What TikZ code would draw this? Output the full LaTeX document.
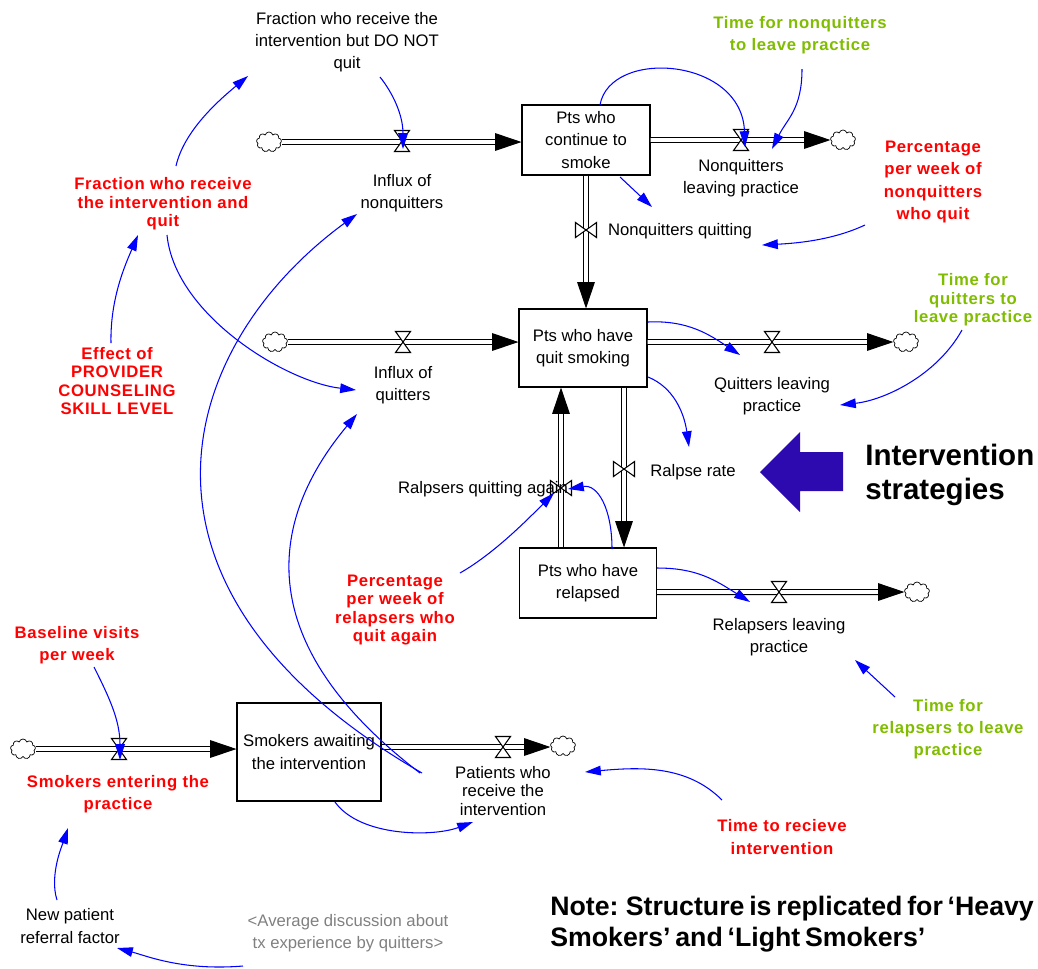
\documentclass[tikz,border=0pt]{standalone}
\usepackage{fontspec}
\setmainfont{Liberation Sans}
\newfontfamily\spfont[LetterSpace=4]{Liberation Sans}
\usetikzlibrary{arrows.meta,shapes.symbols,calc}

\definecolor{linkblue}{RGB}{0,0,255}
\definecolor{parred}{RGB}{255,0,0}
\definecolor{pargreen}{RGB}{128,188,0}
\definecolor{shadowgray}{RGB}{128,128,128}
\definecolor{bigblue}{RGB}{44,10,176}

\tikzstyle{stock}     = [draw, fill=white, line width=0.6pt, align=center, inner sep=0pt, font=\fontsize{9.5}{12.7}\selectfont]
\tikzstyle{lbl}       = [align=center, inner sep=1pt, font=\fontsize{9.5}{12.7}\selectfont]
\tikzstyle{lbltight}  = [lbl, font=\fontsize{9.5}{10.8}\selectfont]
\tikzstyle{redaux}    = [align=center, inner sep=1pt, text=parred, font=\spfont\bfseries\fontsize{9.5}{12.7}\selectfont]
\tikzstyle{redtight}  = [redaux, font=\spfont\bfseries\fontsize{9.5}{10.6}\selectfont]
\tikzstyle{greenaux}  = [redaux, text=pargreen]
\tikzstyle{greentight}= [redtight, text=pargreen]
\tikzstyle{cloudy}    = [cloud, cloud puffs=9, draw, fill=white, line width=0.4pt, minimum width=0.5cm, minimum height=0.4cm, inner sep=0pt]
\tikzstyle{pipe}      = [double distance=2.2pt, line width=0.6pt, -{Triangle[length=15pt,width=10pt]}]
\tikzstyle{link}      = [linkblue, line width=0.6pt, -{Triangle[length=9pt,width=5.5pt]}]

\tikzset{valve/.pic={\draw[fill=white, line width=0.6pt] (-7.5,-10.5) -- (7.5,-10.5) -- (-7.5,10.5) -- (7.5,10.5) -- cycle;}}

\begin{document}
\begin{tikzpicture}[x=0.02cm, y=-0.02cm]
  \useasboundingbox (0,0) rectangle (1038,968);

  % stocks
  \node[stock, minimum width=2.56cm, minimum height=1.4cm]  (contsmoke) at (586,140) {Pts who\\continue to\\smoke};
  \node[stock, minimum width=2.56cm, minimum height=1.56cm] (quitsmk)   at (583,348) {Pts who have\\quit smoking};
  \node[stock, minimum width=2.74cm, minimum height=1.4cm]  (relapsed)  at (588,583) {Pts who have\\relapsed};
  \node[stock, minimum width=2.88cm, minimum height=1.96cm] (awaiting)  at (309,752) {Smokers awaiting\\the intervention};

  % sources and sinks
  \node[cloudy] (c1) at (269,142) {};
  \node[cloudy] (c2) at (843,140) {};
  \node[cloudy] (c3) at (275,342) {};
  \node[cloudy] (c4) at (906,342) {};
  \node[cloudy] (c5) at (917,592) {};
  \node[cloudy] (c6) at (23,749) {};
  \node[cloudy] (c7) at (563,746) {};

  % valves
  \coordinate (vinfnq)    at (402,141);
  \coordinate (vnqleave)  at (741,140);
  \coordinate (vnqquit)   at (586,230);
  \coordinate (vinfq)     at (403,342);
  \coordinate (vqleave)   at (772,342);
  \coordinate (vralpse)   at (624,469);
  \coordinate (vrelquit)  at (561,488);
  \coordinate (vrelleave) at (779,592);
  \coordinate (ventering) at (119,749);
  \coordinate (vpatients) at (503,747);

  % flows
  \draw[pipe] (c1.east) -- (c1.east -| contsmoke.west);
  \draw[pipe] (contsmoke.east |- c2) -- (c2.west);
  \draw[pipe] (contsmoke.south) -- (contsmoke.south |- quitsmk.north);
  \draw[pipe] (c3.east) -- (c3.east -| quitsmk.west);
  \draw[pipe] (quitsmk.east |- c4) -- (c4.west);
  \draw[pipe] (quitsmk.south -| vralpse) -- (relapsed.north -| vralpse);
  \draw[pipe] (relapsed.north -| vrelquit) -- (quitsmk.south -| vrelquit);
  \draw[pipe] (relapsed.east |- c5) -- (c5.west);
  \draw[pipe] (c6.east) -- (c6.east -| awaiting.west);
  \draw[pipe] (awaiting.east |- vpatients) -- (c7.west |- vpatients);

  \pic at (vinfnq) {valve};
  \pic at (vnqleave) {valve};
  \pic[rotate=90] at (vnqquit) {valve};
  \pic at (vinfq) {valve};
  \pic at (vqleave) {valve};
  \pic[rotate=90] at (vralpse) {valve};
  \pic[rotate=90] at (vrelquit) {valve};
  \pic at (vrelleave) {valve};
  \pic at (ventering) {valve};
  \pic at (vpatients) {valve};

  % flow names
  \node[lbl] (influxnq) at (402,193) {Influx of\\nonquitters};
  \node[lbl] (nqleave)  at (741,178) {Nonquitters\\leaving practice};
  \node[lbl] (nqquit)   at (680,231) {Nonquitters quitting};
  \node[lbl] (influxq)  at (403,385) {Influx of\\quitters};
  \node[lbl] (qleave)   at (772,396) {Quitters leaving\\practice};
  \node[lbl] (ralpse)   at (693,472) {Ralpse rate};
  \node[lbl] (relquit)  at (483,489) {Ralpsers quitting again};
  \node[lbl] (relleave) at (779,637) {Relapsers leaving\\practice};
  \node[redaux] (entering) at (118,794) {Smokers entering the\\practice};
  \node[lbltight] (patients) at (503,791) {Patients who\\receive the\\intervention};

  % auxiliaries
  \node[lbl] (fracnq) at (347,42) {Fraction who receive the\\intervention but DO NOT\\quit};
  \node[redtight] (fracq) at (163,204) {Fraction who receive\\the intervention and\\quit};
  \node[redtight] (effect) at (117,381) {Effect of\\PROVIDER\\COUNSELING\\SKILL LEVEL};
  \node[greenaux] (timenq) at (800,35) {Time for nonquitters\\to leave practice};
  \node[redaux] (pctnq) at (933,182) {Percentage\\per week of\\nonquitters\\who quit};
  \node[greentight] (timeq) at (973,300) {Time for\\quitters to\\leave practice};
  \node[redtight] (pctrel) at (395,610) {Percentage\\per week of\\relapsers who\\quit again};
  \node[redaux] (baseline) at (77,645) {Baseline visits\\per week};
  \node[greenaux] (timerel) at (948,729) {Time for\\relapsers to leave\\practice};
  \node[redaux] (timerecv) at (782,837) {Time to recieve\\intervention};
  \node[lbl] (newref) at (70,926) {New patient\\referral factor};
  \node[lbl, text=shadowgray] (avgdisc) at (348,933) {<Average discussion about\\tx experience by quitters>};

  % influences
  \draw[link] ($(fracnq)+(33,35)$) .. controls +(12,15) and +(0,-35) .. ($(vinfnq)+(1,8)$);
  \draw[link] ($(fracq)+(13,-38)$) .. controls +(8,-35) and +(-30,25) .. ($(fracnq)+(-99,34)$);
  \draw[link] ($(fracq)+(4,31)$) .. controls +(8,80) and +(-70,-8) .. ($(influxq)+(-47,5)$);
  \draw[link] ($(effect)+(-6,-38)$) .. controls +(-1,-45) and +(-12,28) .. ($(fracq)+(-25,31)$);
  \draw[link] ($(patients)+(-81,-18)$) .. controls +(-320,-185) and +(-180,132) .. ($(influxnq)+(-45,21)$);
  \draw[link] ($(patients)+(-83,-18)$) .. controls +(-191,-146) and +(-71,85) .. ($(influxq)+(-46,29)$);
  \draw[link] ($(contsmoke)+(14,-35)$) .. controls +(10,-57) and +(-3,-90) .. ($(vnqleave)+(4,7)$);
  \draw[link] ($(timenq)+(2,34)$) .. controls +(0,40) and +(15,-30) .. ($(nqleave)+(31,-29)$);
  \draw[link] ($(contsmoke)+(34,37)$) -- ($(nqquit)+(-28,-24)$);
  \draw[link] ($(pctnq)+(-68,43)$) .. controls +(-30,14) and +(40,-2) .. ($(nqquit)+(82,14)$);
  \draw[link] ($(quitsmk)+(65,-26)$) .. controls +(40,-2) and +(-30,-20) .. ($(qleave)+(-32,-41)$);
  \draw[link] ($(timeq)+(-11,30)$) .. controls +(-25,45) and +(45,-5) .. ($(qleave)+(68,9)$);
  \draw[link] ($(quitsmk)+(65,29)$) .. controls +(25,10) and +(-5,-35) .. ($(ralpse)+(-4,-25)$);
  \draw[link] ($(pctrel)+(65,-37)$) .. controls +(35,-20) and +(-25,25) .. ($(vrelquit)+(-7,5)$);
  \draw[link] ($(relapsed)+(24,-34)$) .. controls +(0,-40) and +(30,-5) .. ($(vrelquit)+(7,1)$);
  \draw[link] ($(relapsed)+(69,-15)$) .. controls +(40,0) and +(-35,-22) .. ($(relleave)+(-29,-35)$);
  \draw[link] ($(timerel)+(-53,-32)$) -- ($(relleave)+(76,23)$);
  \draw[link] ($(timerecv)+(-60,-37)$) .. controls +(-35,-35) and +(55,-5) .. ($(patients)+(82,-19)$);
  \draw[link] ($(baseline)+(17,22)$) .. controls +(15,30) and +(0,-40) .. ($(ventering)+(1,11)$);
  \draw[link] ($(awaiting)+(26,50)$) .. controls +(25,35) and +(-40,15) .. ($(patients)+(-30,31)$);
  \draw[link] ($(newref)+(-13,-26)$) .. controls +(-8,-25) and +(-5,15) .. ($(entering)+(-50,34)$);
  \draw[link] ($(avgdisc)+(-105,33)$) .. controls +(-60,5) and +(30,8) .. ($(newref)+(47,22)$);

  % intervention marker
  \fill[bigblue] (760,472) -- (800,432) -- (800,452) -- (843,452) -- (843,491) -- (800,491) -- (800,512) -- cycle;
  \node[anchor=west, align=left, inner sep=0pt, font=\bfseries\fontsize{16.8}{19.8}\selectfont] (interv) at (865,475) {Intervention\\strategies};

  \node[anchor=west, align=left, inner sep=0pt, font=\bfseries\fontsize{15.2}{18}\selectfont] (note) at (550,924) {Note:\hspace{-1.5pt} Structure\hspace{-1.5pt} is\hspace{-1.5pt} replicated\hspace{-1.5pt} for\hspace{-1.5pt} ‘Heavy\\Smokers’\hspace{-1.5pt} and\hspace{-1.5pt} ‘Light\hspace{-1.5pt} Smokers’};
\end{tikzpicture}
\end{document}
